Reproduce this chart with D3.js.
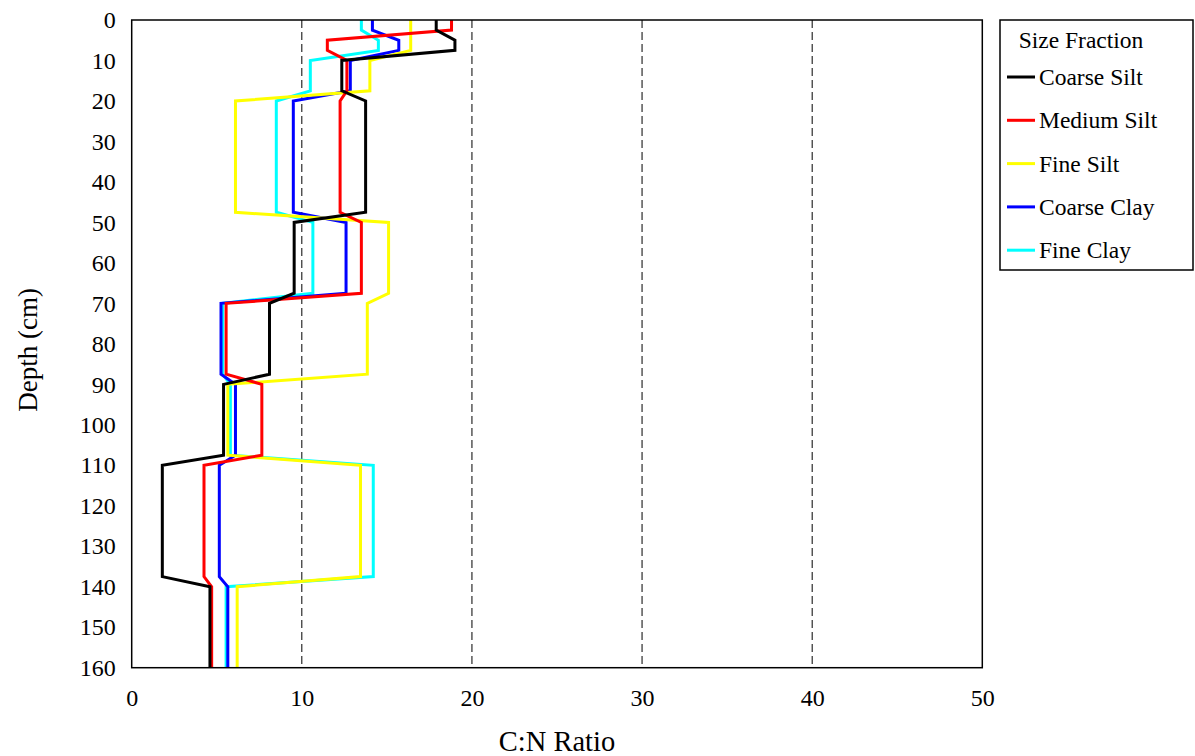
<!DOCTYPE html>
<html>
<head>
<meta charset="utf-8">
<script src="https://cdn.jsdelivr.net/npm/d3@7"></script>
<style>
  html, body { margin: 0; padding: 0; background: #fff; }
  svg { display: block; }
  svg text { font-family: "Liberation Serif", "Times New Roman", serif; fill: #000; }
</style>
</head>
<body>
<svg id="chart" width="1195" height="756"></svg>
<script>
// Sampling layers (cm): each layer is drawn from its top to its bottom depth
const layerTop    = [0, 5, 10, 20, 50, 70, 90, 110, 140];
const layerBottom = [2.5, 7.5, 17.5, 47.5, 67.5, 87.5, 107.5, 137.5, 160];

// C:N ratio per layer for each size fraction
const coarseSilt = [17.9, 19.0, 12.35, 13.75, 9.55, 8.1, 5.4, 1.8, 4.6];
const mediumSilt = [18.8, 11.5, 12.65, 12.25, 13.5, 5.55, 7.65, 4.25, 4.7];
const fineSilt   = [16.4, 16.4, 14.0, 6.1, 15.1, 13.85, 5.65, 13.45, 6.2];
const coarseClay = [14.15, 15.7, 12.85, 9.5, 12.6, 5.25, 6.1, 5.15, 5.65];
const fineClay   = [13.5, 14.5, 10.5, 8.5, 10.65, 5.35, 5.8, 14.2, 5.55];

const seriesNames  = ["Coarse Silt", "Medium Silt", "Fine Silt", "Coarse Clay", "Fine Clay"];
const seriesValues = [coarseSilt, mediumSilt, fineSilt, coarseClay, fineClay];
const seriesColors = ["#000000", "#ff0000", "#ffff00", "#0000ff", "#00ffff"];

const xTicks = [0, 10, 20, 30, 40, 50];
const yTicks = d3.range(0, 161, 10);
const gridTicks = [10, 20, 30, 40];

const svg = d3.select("#chart");
const plot = { left: 131.7, top: 20, right: 982.3, bottom: 667.7 };

const x = d3.scaleLinear().domain([0, 50]).range([plot.left, plot.right]);
const y = d3.scaleLinear().domain([0, 160]).range([plot.top, plot.bottom]);

// dashed vertical gridlines
svg.append("g").selectAll("line").data(gridTicks).join("line")
  .attr("x1", d => x(d)).attr("x2", d => x(d))
  .attr("y1", plot.top).attr("y2", plot.bottom)
  .attr("stroke", "#000").attr("stroke-width", 1)
  .attr("stroke-dasharray", "8,4");

// axis labels (no tick marks)
const xAxis = d3.axisBottom(x).tickValues(xTicks).tickSize(0).tickPadding(21);
svg.append("g").attr("transform", `translate(0,${plot.bottom})`).call(xAxis)
  .attr("font-family", null).attr("font-size", null)
  .call(g => g.select(".domain").remove())
  .call(g => g.selectAll("text").style("font-size", "24px"));

const yAxis = d3.axisLeft(y).tickValues(yTicks).tickSize(0).tickPadding(16);
svg.append("g").attr("transform", `translate(${plot.left},0)`).call(yAxis)
  .attr("font-family", null).attr("font-size", null)
  .call(g => g.select(".domain").remove())
  .call(g => g.selectAll("text").style("font-size", "24px"));

// profile lines, drawn so Coarse Silt ends up on top
const line = d3.line().x(d => x(d[0])).y(d => y(d[1]));
const profiles = seriesValues.map((vals, i) => {
  const pts = [];
  vals.forEach((v, k) => { pts.push([v, layerTop[k]]); pts.push([v, layerBottom[k]]); });
  return { name: seriesNames[i], color: seriesColors[i], pts };
});
svg.append("g").selectAll("path").data(profiles.slice().reverse()).join("path")
  .attr("d", d => line(d.pts))
  .attr("fill", "none")
  .attr("stroke", d => d.color)
  .attr("stroke-width", 3)
  .attr("stroke-linejoin", "miter");

// plot frame
svg.append("rect")
  .attr("x", plot.left).attr("y", plot.top)
  .attr("width", plot.right - plot.left).attr("height", plot.bottom - plot.top)
  .attr("fill", "none").attr("stroke", "#000").attr("stroke-width", 1.5);

// axis titles
svg.append("text")
  .attr("x", 557).attr("y", 751)
  .attr("text-anchor", "middle").style("font-size", "28.5px").text("C:N Ratio");
svg.append("text")
  .attr("transform", `translate(37,${(plot.top + plot.bottom) / 2 + 6}) rotate(-90)`)
  .attr("text-anchor", "middle").style("font-size", "27px").text("Depth (cm)");

// legend
const lg = svg.append("g");
lg.append("rect").attr("x", 1000).attr("y", 20).attr("width", 193).attr("height", 250)
  .attr("fill", "#fff").attr("stroke", "#000").attr("stroke-width", 1.5);
lg.append("text").attr("x", 1081).attr("y", 48).attr("text-anchor", "middle")
  .style("font-size", "23.5px").text("Size Fraction");
const rows = lg.selectAll("g.row").data(profiles).join("g")
  .attr("class", "row")
  .attr("transform", (d, i) => `translate(0,${77 + i * 43.3})`);
rows.append("line").attr("x1", 1007).attr("x2", 1035).attr("y1", 0).attr("y2", 0)
  .attr("stroke", d => d.color).attr("stroke-width", 3);
rows.append("text").attr("x", 1039).attr("y", 8).style("font-size", "23.5px").text(d => d.name);
</script>
</body>
</html>
